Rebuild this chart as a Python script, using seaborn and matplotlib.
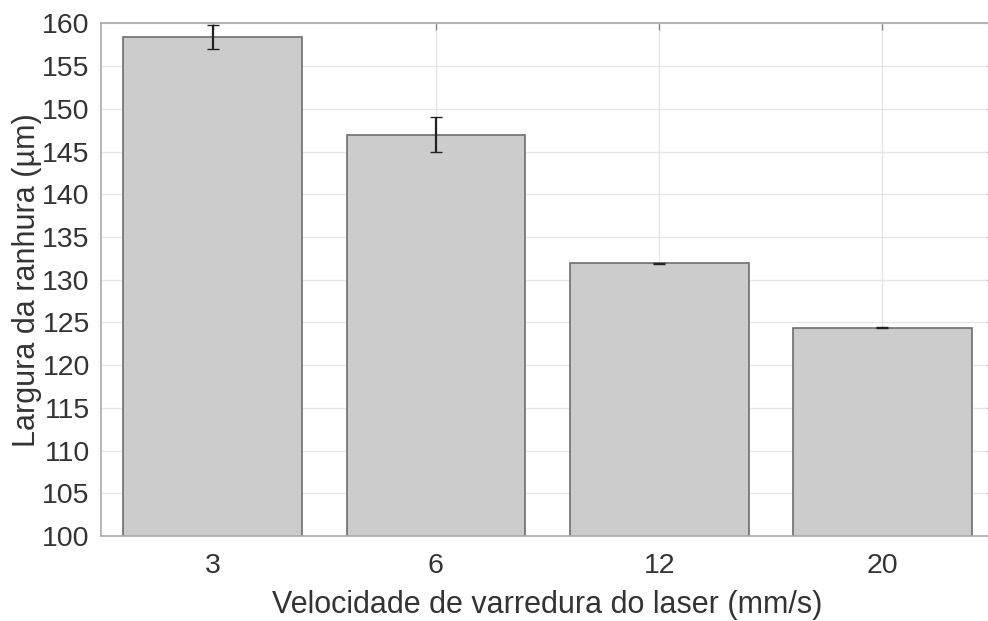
import numpy
import pandas
import seaborn
import matplotlib
matplotlib.use("Agg")
import matplotlib.pyplot as plot

speeds = ["3", "6", "12", "20"]
widths = [158.4, 147.0, 131.9, 124.4]
errors = [1.4, 2.1, 0.1, 0.1]

df = pandas.DataFrame({"speed": speeds, "width": widths, "err": errors})

seaborn.set_theme(style="whitegrid")
plot.rcParams['font.family'] = ['Liberation Sans', 'DejaVu Sans']

fig = plot.figure(figsize=(9.88, 6.21), dpi=100)
ax = fig.add_axes([0.1022, 0.1369, 0.904, 0.8253])

seaborn.barplot(data=df, x="speed", y="width", ax=ax, color="#cccccc", saturation=1,
                width=0.8, edgecolor="#6e6e6e", linewidth=1.2, errorbar=None, zorder=2)
ax.errorbar(numpy.arange(len(speeds)), df["width"], yerr=df["err"], fmt="none",
            ecolor="#222222", elinewidth=1.6, capsize=4, capthick=1.0, zorder=3)

ax.set_ylim(100, 160)
ax.set_xlim(-0.5, 3.5)
ax.set_yticks(range(100, 161, 5))
ax.set_xlabel("Velocidade de varredura do laser (mm/s)", fontsize=22, color="#333333", labelpad=8)
ax.set_ylabel("Largura da ranhura (µm)", fontsize=22, color="#333333", labelpad=0)

ax.grid(True, color="#e6e6e6", linewidth=1.0, zorder=0)
ax.set_axisbelow(True)
ax.tick_params(axis="both", direction="in", length=5, width=1, color="#888888",
               labelsize=20.5, labelcolor="#333333", top=True, right=True)
ax.tick_params(axis="x", pad=12)
ax.tick_params(axis="y", pad=8)
for side in ax.spines.values():
    side.set_color("#aaaaaa")
    side.set_linewidth(1.2)

fig.savefig("out.png", dpi=100)
